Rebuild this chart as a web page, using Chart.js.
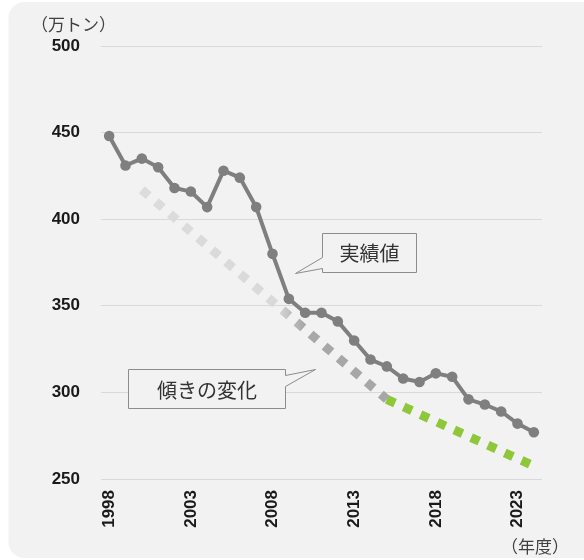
<!DOCTYPE html>
<html>
<head>
<meta charset="utf-8">
<script src="https://cdn.jsdelivr.net/npm/chart.js@4.4.1/dist/chart.umd.min.js"></script>
<style>
  html, body { margin: 0; padding: 0; background: #fff; }
  #wrap { width: 584px; height: 560px; }
</style>
</head>
<body>
<div id="wrap"><canvas id="chart" width="584" height="560"></canvas></div>
<script>
const years = [
  "1998", "1999", "2000", "2001", "2002", "2003", "2004", "2005", "2006",
  "2007", "2008", "2009", "2010", "2011", "2012", "2013", "2014", "2015",
  "2016", "2017", "2018", "2019", "2020", "2021", "2022", "2023", "2024",
];
const actual = [
  448, 431, 435, 430, 418, 416, 407, 428, 424,
  407, 380, 354, 346, 346, 341, 330, 319, 315,
  308, 306, 311, 309, 296, 293, 289, 282, 277,
];
// slope guides: only their end points are data
const slopeBefore = years.map((y) => ({ "2000": 417, "2015": 296 }[y] ?? null));
const slopeAfter = years.map((y) => ({ "2015": 296, "2024": 257.5 }[y] ?? null));
const tickYears = ["1998", "2003", "2008", "2013", "2018", "2023"];
const yTicks = [250, 300, 350, 400, 450, 500];

const JP = '"Noto Sans CJK JP", "Noto Sans", sans-serif';
const NUM = '"Liberation Sans", Arial, sans-serif';

function roundRect(ctx, x, y, w, h, r) {
  ctx.beginPath();
  ctx.moveTo(x + r, y);
  ctx.lineTo(x + w - r, y);
  ctx.arcTo(x + w, y, x + w, y + r, r);
  ctx.lineTo(x + w, y + h - r);
  ctx.arcTo(x + w, y + h, x + w - r, y + h, r);
  ctx.lineTo(x + r, y + h);
  ctx.arcTo(x, y + h, x, y + h - r, r);
  ctx.lineTo(x, y + r);
  ctx.arcTo(x, y, x + r, y, r);
  ctx.closePath();
}

const panelBg = {
  id: "panelBg",
  beforeDraw(chart) {
    const ctx = chart.ctx;
    ctx.save();
    ctx.fillStyle = "#ffffff";
    ctx.fillRect(0, 0, chart.width, chart.height);
    roundRect(ctx, 8.5, 2, chart.width + 20, chart.height - 4, 16);
    ctx.fillStyle = "#f2f2f2";
    ctx.fill();
    ctx.restore();
  },
};

// speech-bubble labels, anchored on the scales
function bubble(ctx, pts, text, cx, cy) {
  ctx.beginPath();
  pts.forEach(([x, y], i) => (i ? ctx.lineTo(x, y) : ctx.moveTo(x, y)));
  ctx.closePath();
  ctx.fillStyle = "#f2f2f2";
  ctx.fill();
  ctx.strokeStyle = "#8c8c8c";
  ctx.lineWidth = 1;
  ctx.stroke();
  ctx.fillStyle = "#333333";
  ctx.font = "20px " + JP;
  ctx.textAlign = "center";
  ctx.textBaseline = "middle";
  ctx.fillText(text, cx, cy);
}

const annotations = {
  id: "annotations",
  afterDatasetsDraw(chart) {
    const { ctx, scales: { x, y } } = chart;
    const px = (i) => Math.round(x.getPixelForValue(i)) + 0.5;
    const py = (v) => Math.round(y.getPixelForValue(v)) + 0.5;
    ctx.save();

    // 実績値
    let l = px(13), r = px(18.77), t = py(392), b = py(369.5);
    bubble(ctx, [[l, t], [r, t], [r, b], [l, b], [l, b - 4], [px(11.38), py(368.8)], [l, b - 15]],
      "実績値", (l + r) / 2, (t + b) / 2);

    // 傾きの変化
    l = px(1.17); r = px(10.79); t = py(313.5); b = py(291);
    bubble(ctx, [[l, t], [r, t], [r, t + 6], [px(12.63), py(313.5)], [r, t + 17], [r, b], [l, b]],
      "傾きの変化", (l + r) / 2, (t + b) / 2 + 1);

    ctx.fillStyle = "#404040";
    ctx.font = "17px " + JP;
    ctx.textBaseline = "middle";
    ctx.textAlign = "left";
    ctx.fillText("（万トン）", 31, 25);
    ctx.textAlign = "right";
    ctx.fillText("（年度）", 569, 547);
    ctx.restore();
  },
};

function slopeGradient(c) {
  const chart = c.chart;
  const xs = chart.scales.x;
  if (!chart.chartArea || !xs) return "#d9d9d9";
  const x0 = xs.getPixelForValue(2);
  const x1 = xs.getPixelForValue(17);
  const g = chart.ctx.createLinearGradient(x0, 0, x1, 0);
  g.addColorStop(0, "#dcdcdc");
  g.addColorStop(0.55, "#d9d9d9");
  g.addColorStop(0.66, "#a8a8a8");
  g.addColorStop(1, "#a6a6a6");
  return g;
}

new Chart(document.getElementById("chart"), {
  type: "line",
  data: {
    labels: years,
    datasets: [
      {
        label: "実績値",
        data: actual,
        borderColor: "#7f7f7f",
        backgroundColor: "#7f7f7f",
        borderWidth: 4,
        pointRadius: 5.3,
        pointBorderWidth: 0,
        tension: 0,
      },
      {
        label: "傾き（前）",
        data: slopeBefore,
        spanGaps: true,
        borderColor: slopeGradient,
        borderWidth: 9,
        borderDash: [9, 9.5],
        borderCapStyle: "butt",
        pointRadius: 0,
      },
      {
        label: "傾き（後）",
        data: slopeAfter,
        spanGaps: true,
        borderColor: "#8fc73a",
        borderWidth: 9,
        borderDash: [9, 9.5],
        borderCapStyle: "butt",
        pointRadius: 0,
      },
    ],
  },
  options: {
    responsive: false,
    animation: false,
    devicePixelRatio: 1,
    layout: { padding: { top: 46, right: 42, left: 0, bottom: 0 } },
    plugins: {
      legend: { display: false },
      tooltip: { enabled: false },
    },
    scales: {
      x: {
        type: "category",
        offset: true,
        grid: { display: false, drawTicks: false },
        border: { display: false },
        afterFit: (s) => { s.height = 81; },
        ticks: {
          autoSkip: false,
          minRotation: 90,
          maxRotation: 90,
          padding: 11,
          color: "#1a1a1a",
          font: { family: NUM, size: 17, weight: "bold" },
          callback: (v, i) => (tickYears.includes(years[i]) ? years[i] : ""),
        },
      },
      y: {
        min: 250,
        max: 500,
        afterFit: (s) => { s.width = 101; },
        afterBuildTicks: (s) => { s.ticks = yTicks.map((v) => ({ value: v })); },
        grid: { color: "#d9d9d9", lineWidth: 1, drawTicks: false },
        border: { display: false },
        ticks: {
          padding: 21,
          color: "#1a1a1a",
          font: { family: NUM, size: 17, weight: "bold" },
        },
      },
    },
  },
  plugins: [panelBg, annotations],
});
</script>
</body>
</html>
